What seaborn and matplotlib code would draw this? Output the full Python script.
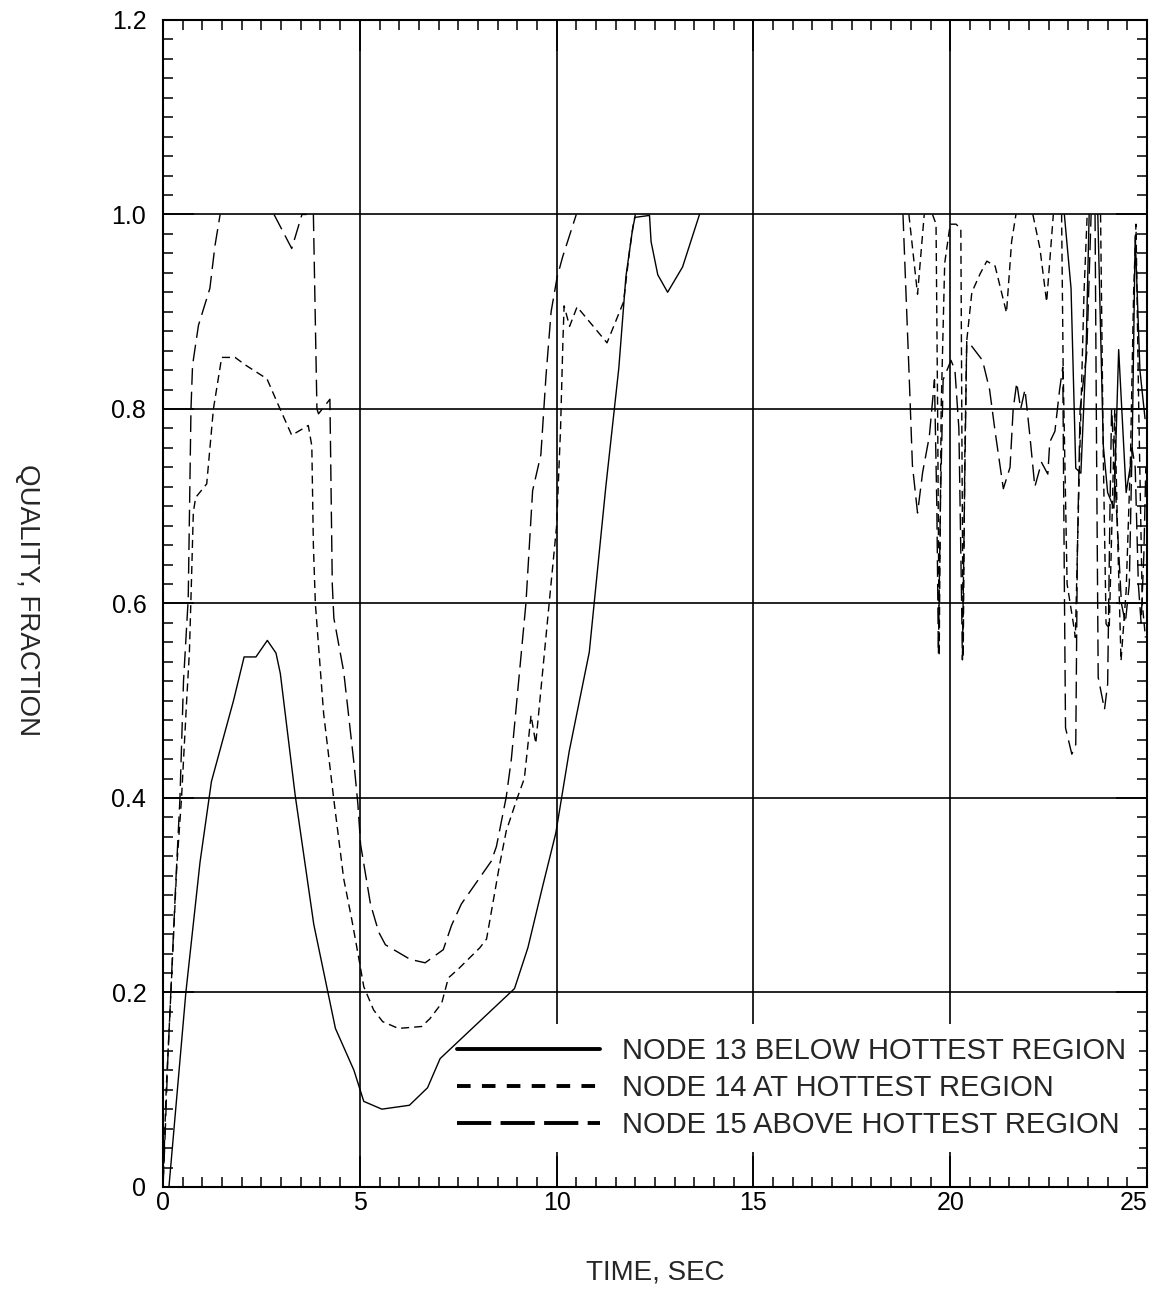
import numpy as np
import pandas as pd
import matplotlib
matplotlib.use("Agg")
import matplotlib.pyplot as plt
import seaborn as sns
from matplotlib.lines import Line2D
from matplotlib.ticker import AutoMinorLocator

nan = np.nan

# node 13, below hottest region (solid). NaN marks where the curve is off the top (quality 1.0)
node13_time = [0.0, 0.15, 0.58, 0.94, 1.23, 1.79, 2.06, 2.36, 2.65, 2.87, 2.98, 3.36, 3.83, 4.38,
               4.85, 5.10, 5.56, 6.26, 6.72, 7.04, 8.93, 9.27, 9.65, 9.98, 10.32, 10.83, 11.25,
               11.58, 11.76, 11.93, 11.99, 12.36, 12.40, 12.57, 12.82, 13.20, 13.63, nan,
               22.90, 23.07, 23.19, 23.32, 23.45, 23.53, nan,
               23.75, 23.89, 24.00, 24.16, 24.28, 24.47, 24.62, 24.70, 24.82, 24.95]
node13_quality = [0.0, 0.0, 0.20, 0.334, 0.417, 0.50, 0.545, 0.545, 0.562, 0.549, 0.528, 0.402, 0.27, 0.163,
                  0.12, 0.088, 0.080, 0.084, 0.102, 0.132, 0.204, 0.246, 0.31, 0.364, 0.448, 0.55, 0.72,
                  0.842, 0.936, 0.985, 0.997, 0.999, 0.972, 0.938, 0.92, 0.946, 1.0, nan,
                  1.0, 0.924, 0.739, 0.734, 0.856, 1.0, nan,
                  1.0, 0.762, 0.714, 0.698, 0.861, 0.714, 0.752, 0.978, 0.84, 0.79]

# node 14, at hottest region (short dashes)
node14_time = [0.0, 0.08, 0.20, 0.35, 0.47, 0.60, 0.67, 0.72, 0.77, 0.83, 0.95, 1.11, 1.28, 1.49, 1.83,
               2.10, 2.64, 2.93, 3.27, 3.69, 3.78, 3.82, 3.87, 4.08, 4.34, 4.59, 4.80, 4.97, 5.10, 5.35,
               5.58, 5.98, 6.57, 6.78, 7.08, 7.25, 7.50, 8.05, 8.22, 8.55, 8.72, 9.00, 9.18, 9.35, 9.47,
               9.81, 10.00, 10.10, 10.16, 10.19, 10.33, 10.52, 11.28, 11.70, 11.86, 11.95, 12.00, nan,
               18.95, 19.17, 19.34, nan,
               19.55, 19.64, 19.68, 19.72, 19.77, 19.86, 20.00, 20.15, 20.27, 20.30, 20.33, 20.37, 20.42,
               20.55, 20.76, 20.93, 21.14, 21.43, 21.56, 21.67, nan,
               22.10, 22.28, 22.45, 22.62, nan,
               22.83, 22.87, 22.97, 23.13, 23.18, 23.27, 23.40, 23.48, nan,
               23.82, 23.89, 23.96, 24.04, 24.12, 24.18, 24.26, 24.34, 24.47, 24.58, 24.66, 24.72, 24.79,
               24.88, 24.96]
node14_quality = [0.0, 0.10, 0.20, 0.33, 0.40, 0.50, 0.55, 0.62, 0.694, 0.709, 0.715, 0.723, 0.80, 0.853, 0.853,
                  0.845, 0.831, 0.804, 0.773, 0.783, 0.762, 0.66, 0.60, 0.487, 0.398, 0.317, 0.274, 0.236, 0.206, 0.182,
                  0.170, 0.163, 0.165, 0.173, 0.189, 0.215, 0.224, 0.246, 0.255, 0.331, 0.366, 0.40, 0.42, 0.485, 0.456,
                  0.60, 0.68, 0.78, 0.87, 0.906, 0.885, 0.905, 0.868, 0.91, 0.965, 0.99, 1.0, nan,
                  1.0, 0.918, 1.0, nan,
                  1.0, 0.99, 0.80, 0.546, 0.80, 0.95, 0.99, 0.99, 0.985, 0.75, 0.545, 0.75, 0.87,
                  0.92, 0.939, 0.952, 0.947, 0.899, 0.972, 1.0, nan,
                  1.0, 0.965, 0.91, 1.0, nan,
                  1.0, 0.84, 0.62, 0.579, 0.565, 0.72, 0.92, 1.0, nan,
                  1.0, 0.75, 0.579, 0.574, 0.70, 0.80, 0.66, 0.541, 0.613, 0.75, 0.92, 0.99, 0.80,
                  0.60, 0.565]

# node 15, above hottest region (long dashes)
node15_time = [0.0, 0.05, 0.12, 0.22, 0.32, 0.43, 0.52, 0.64, 0.71, 0.75, 0.90, 1.19, 1.32, 1.41, 1.45, nan,
               2.82, 3.27, 3.53, 3.65, nan,
               3.82, 3.91, 3.95, 4.24, 4.30, 4.34, 4.59, 4.85, 4.95, 5.02, 5.27, 5.48, 5.65, 6.28, 6.66,
               7.12, 7.33, 7.58, 8.34, 8.47, 8.72, 8.85, 9.22, 9.39, 9.60, 9.73, 9.86, 10.01, 10.15, 10.50, nan,
               18.80, 18.96, 19.04, 19.17, 19.30, 19.47, 19.60, 19.66, 19.70, 19.75, 19.82, 20.02, 20.12,
               20.22, 20.29, 20.31, 20.36, 20.42, 20.50, 20.82, 21.00, 21.14, 21.35, 21.52, 21.60, 21.69,
               21.79, 21.90, 22.03, 22.15, 22.32, 22.48, 22.53, 22.66, 22.78, 22.86, 22.90, 22.93, 23.09,
               23.19, 23.23, 23.30, 23.47, 23.58, nan,
               23.68, 23.72, 23.76, 23.92, 24.00, 24.06, 24.10, 24.22, 24.35, 24.45, 24.55, 24.62, 24.70,
               24.78, 24.85, 24.92, 24.97]
node15_quality = [0.0, 0.05, 0.13, 0.22, 0.31, 0.40, 0.52, 0.605, 0.80, 0.845, 0.886, 0.924, 0.968, 0.99, 1.0, nan,
                  1.0, 0.965, 1.0, 1.0, nan,
                  1.0, 0.80, 0.795, 0.81, 0.62, 0.585, 0.53, 0.436, 0.394, 0.352, 0.291, 0.262, 0.249, 0.234, 0.2305,
                  0.244, 0.269, 0.291, 0.335, 0.35, 0.401, 0.44, 0.60, 0.716, 0.753, 0.834, 0.90, 0.935, 0.956, 1.0, nan,
                  1.0, 0.831, 0.742, 0.693, 0.735, 0.772, 0.83, 0.70, 0.548, 0.70, 0.83, 0.85, 0.84,
                  0.78, 0.60, 0.542, 0.70, 0.87, 0.867, 0.85, 0.82, 0.777, 0.718, 0.74, 0.80, 0.827,
                  0.80, 0.82, 0.77, 0.72, 0.745, 0.733, 0.766, 0.777, 0.82, 0.843, 0.62, 0.472, 0.445,
                  0.455, 0.65, 0.80, 0.858, 1.0, nan,
                  1.0, 0.75, 0.524, 0.491, 0.517, 0.70, 0.80, 0.70, 0.60, 0.58, 0.62, 0.76, 0.74,
                  0.62, 0.58, 0.65, 0.74]

labels = ["NODE 13 BELOW HOTTEST REGION", "NODE 14 AT HOTTEST REGION", "NODE 15 ABOVE HOTTEST REGION"]
x_ticks = [0, 5, 10, 15, 20, 25]
y_ticks = [0, 0.2, 0.4, 0.6, 0.8, 1.0, 1.2]
y_tick_labels = ["0", "0.2", "0.4", "0.6", "0.8", "1.0", "1.2"]


def to_frame(times, quality, label):
    # cut the series at the NaN gaps so every piece is its own line
    rows = []
    piece = 0
    for t, q in zip(times, quality):
        if np.isnan(t):
            piece += 1
            continue
        rows.append((t, q, label, f"{label} {piece}"))
    return pd.DataFrame(rows, columns=["time", "quality", "node", "piece"])


df = pd.concat([to_frame(node13_time, node13_quality, labels[0]),
                to_frame(node14_time, node14_quality, labels[1]),
                to_frame(node15_time, node15_quality, labels[2])], ignore_index=True)

sns.set_style("ticks")
plt.rcParams["font.family"] = ["Liberation Sans", "DejaVu Sans"]

fig, ax = plt.subplots(figsize=(11.53, 13.13), dpi=100)
fig.subplots_adjust(left=0.1414, right=0.9948, top=0.9848, bottom=0.0960)

line_dashes = {labels[0]: "", labels[1]: (5.8, 3.6), labels[2]: (12, 5)}
sns.lineplot(data=df, x="time", y="quality", style="node", style_order=labels,
             units="piece", estimator=None, sort=False, dashes=line_dashes,
             color="black", linewidth=1.0, legend=False, ax=ax)

ax.set_xlim(0, 25)
ax.set_ylim(0, 1.2)
ax.set_xticks(x_ticks)
ax.set_xticklabels([str(v) for v in x_ticks])
ax.set_yticks(y_ticks)
ax.set_yticklabels(y_tick_labels)
ax.xaxis.set_minor_locator(AutoMinorLocator(10))
ax.yaxis.set_minor_locator(AutoMinorLocator(10))
ax.xaxis.get_majorticklabels()[-1].set_horizontalalignment("right")

ax.set_axisbelow(True)
ax.grid(True, which="major", color="black", linewidth=1.2)
ax.tick_params(which="both", direction="in", top=True, right=True, colors="black")
ax.tick_params(which="major", length=22, width=1.2, labelsize=18)
ax.tick_params(axis="x", which="major", pad=3)
ax.tick_params(axis="y", which="major", pad=12)
ax.tick_params(which="minor", length=7, width=1.1)
for spine in ax.spines.values():
    spine.set_linewidth(1.5)
    spine.set_color("black")

ax.set_xlabel("TIME, SEC", fontsize=20)
ax.set_ylabel("QUALITY, FRACTION", fontsize=20, rotation=270, va="center", ha="center")
ax.xaxis.set_label_coords(0.5, -0.062)
ax.yaxis.set_label_coords(-0.138, 0.503)

# legend keys are drawn thicker than the curves, as in the original
handles = [Line2D([], [], color="black", lw=2.8),
           Line2D([], [], color="black", lw=2.8, dashes=(3.5, 2.9)),
           Line2D([], [], color="black", lw=2.8, dashes=(8.8, 2.4))]
leg = ax.legend(handles, labels, loc="lower right", bbox_to_anchor=(0.992, 0.030),
                bbox_transform=ax.transAxes, borderaxespad=0, fontsize=21,
                handlelength=4.9, handletextpad=0.75, labelspacing=0.30, borderpad=0.45,
                frameon=True, fancybox=False, framealpha=1, facecolor="white", edgecolor="none")
leg.set_zorder(1)

fig.savefig("out.png", dpi=100)
